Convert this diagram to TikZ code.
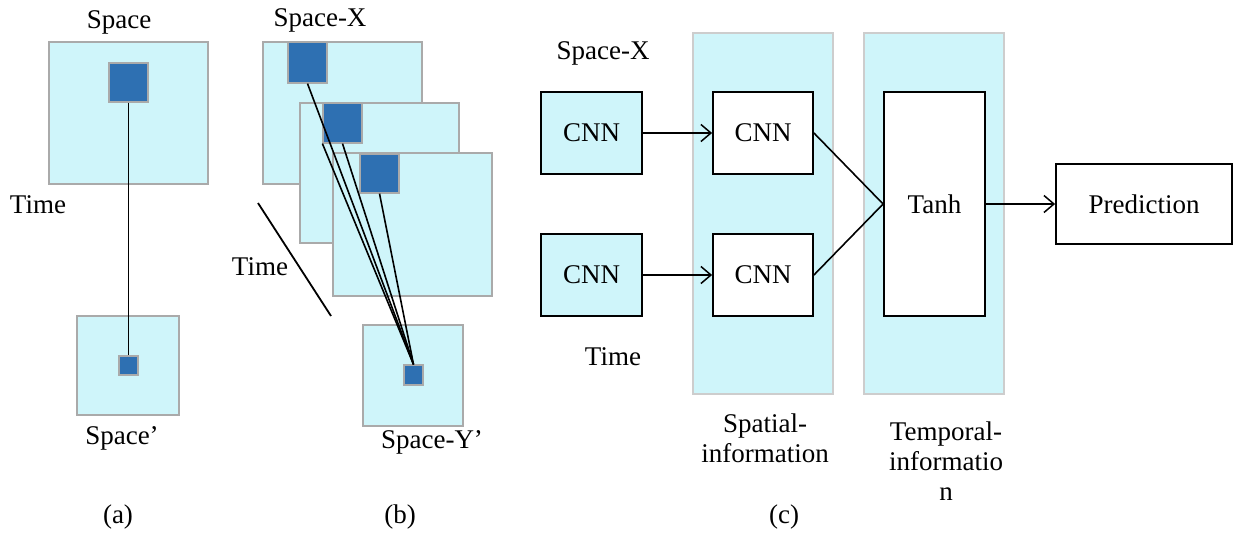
\documentclass[tikz,border=0pt]{standalone}
\usepackage{fontspec}
\setmainfont{Liberation Serif}
\usetikzlibrary{arrows.meta}
\definecolor{pale}{RGB}{207,245,250}
\definecolor{patchblue}{RGB}{46,112,178}
\definecolor{edge}{RGB}{170,170,170}
\definecolor{paneledge}{RGB}{205,205,205}
\begin{document}
\begin{tikzpicture}[x=0.5pt,y=-0.5pt,
    every node/.style={font=\rmfamily\fontsize{13.5}{15}\selectfont},
    frame/.style={draw=edge,fill=pale,line width=0.7pt,inner sep=0pt},
    patch/.style={draw=edge,fill=patchblue,line width=0.6pt,inner sep=0pt},
    panel/.style={draw=paneledge,fill=pale,line width=0.7pt,inner sep=0pt,minimum width=70pt,minimum height=180.5pt},
    cnnbox/.style={draw=black,line width=0.9pt,inner sep=0pt,minimum width=50.5pt,minimum height=41pt},
    link/.style={line width=0.8pt},
    flow/.style={line width=0.75pt,-{Straight Barb[length=5pt,width=8.5pt]}}]
\useasboundingbox (0,0) rectangle (1234,534);
% (a)
\node[frame,minimum width=79.5pt,minimum height=71pt] (spaceA) at (128.5,113) {};
\node[patch,minimum size=19.5pt] (patchA) at (128.5,82.5) {};
\node[frame,minimum width=51pt,minimum height=49.5pt] (outA) at (128,365.5) {};
\node[patch,minimum size=9.5pt] (pixA) at (128.5,365.5) {};
\draw[link] (patchA.south) -- (pixA.north);
\node (lspaceA) at (119,22) {Space};
\node (ltimeA) at (38,205) {Time};
\node (loutA) at (122,438) {Space'};
\node (capA) at (118,517) {(a)};
% (b)
\node[frame,minimum width=79.5pt,minimum height=71pt] (frameB1) at (342.5,113) {};
\node[patch,minimum width=19.5pt,minimum height=20.5pt] (patchB1) at (307.5,62.5) {};
\node[frame,minimum width=79.5pt,minimum height=70pt] (frameB2) at (379.5,173) {};
\node[patch,minimum width=19.5pt,minimum height=20pt] (patchB2) at (342.5,123) {};
\node[frame,minimum width=79.5pt,minimum height=71.5pt] (frameB3) at (412.5,224.5) {};
\node[patch,minimum size=19.5pt] (patchB3) at (379.5,173.5) {};
\node[frame,minimum width=50pt,minimum height=50.5pt] (outB) at (413,375.5) {};
\node[patch,minimum width=9.5pt,minimum height=10pt] (pixB) at (413.5,375) {};
\foreach \src in {patchB1.south,patchB2.south west,patchB2.south,patchB3.south}
    \draw[link] (\src) -- (pixB.north);
\coordinate (timeB1) at (258,203);
\coordinate (timeB2) at (331,316);
\draw[line width=0.9pt] (timeB1) -- (timeB2);
\node (lspaceB) at (320,20) {Space-X};
\node (ltimeB) at (260,267) {Time};
\node (loutB) at (432,442) {Space-Y'};
\node (capB) at (400,517) {(b)};
% (c)
\node[panel] (spatial) at (763,213.5) {};
\node[panel] (temporal) at (934,213.5) {};
\node[cnnbox,fill=pale] (cnnX) at (591.5,133) {CNN};
\node[cnnbox,fill=pale] (cnnT) at (591.5,275) {CNN};
\node[cnnbox,fill=white,minimum width=50pt] (cnnS1) at (763,133) {CNN};
\node[cnnbox,fill=white,minimum width=50pt] (cnnS2) at (763,275) {CNN};
\node[cnnbox,fill=white,minimum height=112pt] (tanh) at (934.5,204) {Tanh};
\node[cnnbox,fill=white,minimum width=88pt,minimum height=40pt] (pred) at (1144,204) {Prediction};
\draw[flow] (cnnX) -- (cnnS1);
\draw[flow] (cnnT) -- (cnnS2);
\draw[link] (cnnS1.east) -- (tanh.west);
\draw[link] (cnnS2.east) -- (tanh.west);
\draw[flow] (tanh) -- (pred);
\node (lspaceC) at (603,53) {Space-X};
\node (ltimeC) at (613,357) {Time};
\node[align=center] (lspatial) at (765,438) {Spatial-\\information};
\node[align=center,text width=60pt] (ltemporal) at (946,461) {Temporal-\\informatio\\n};
\node (capC) at (784,517) {(c)};
\end{tikzpicture}
\end{document}
